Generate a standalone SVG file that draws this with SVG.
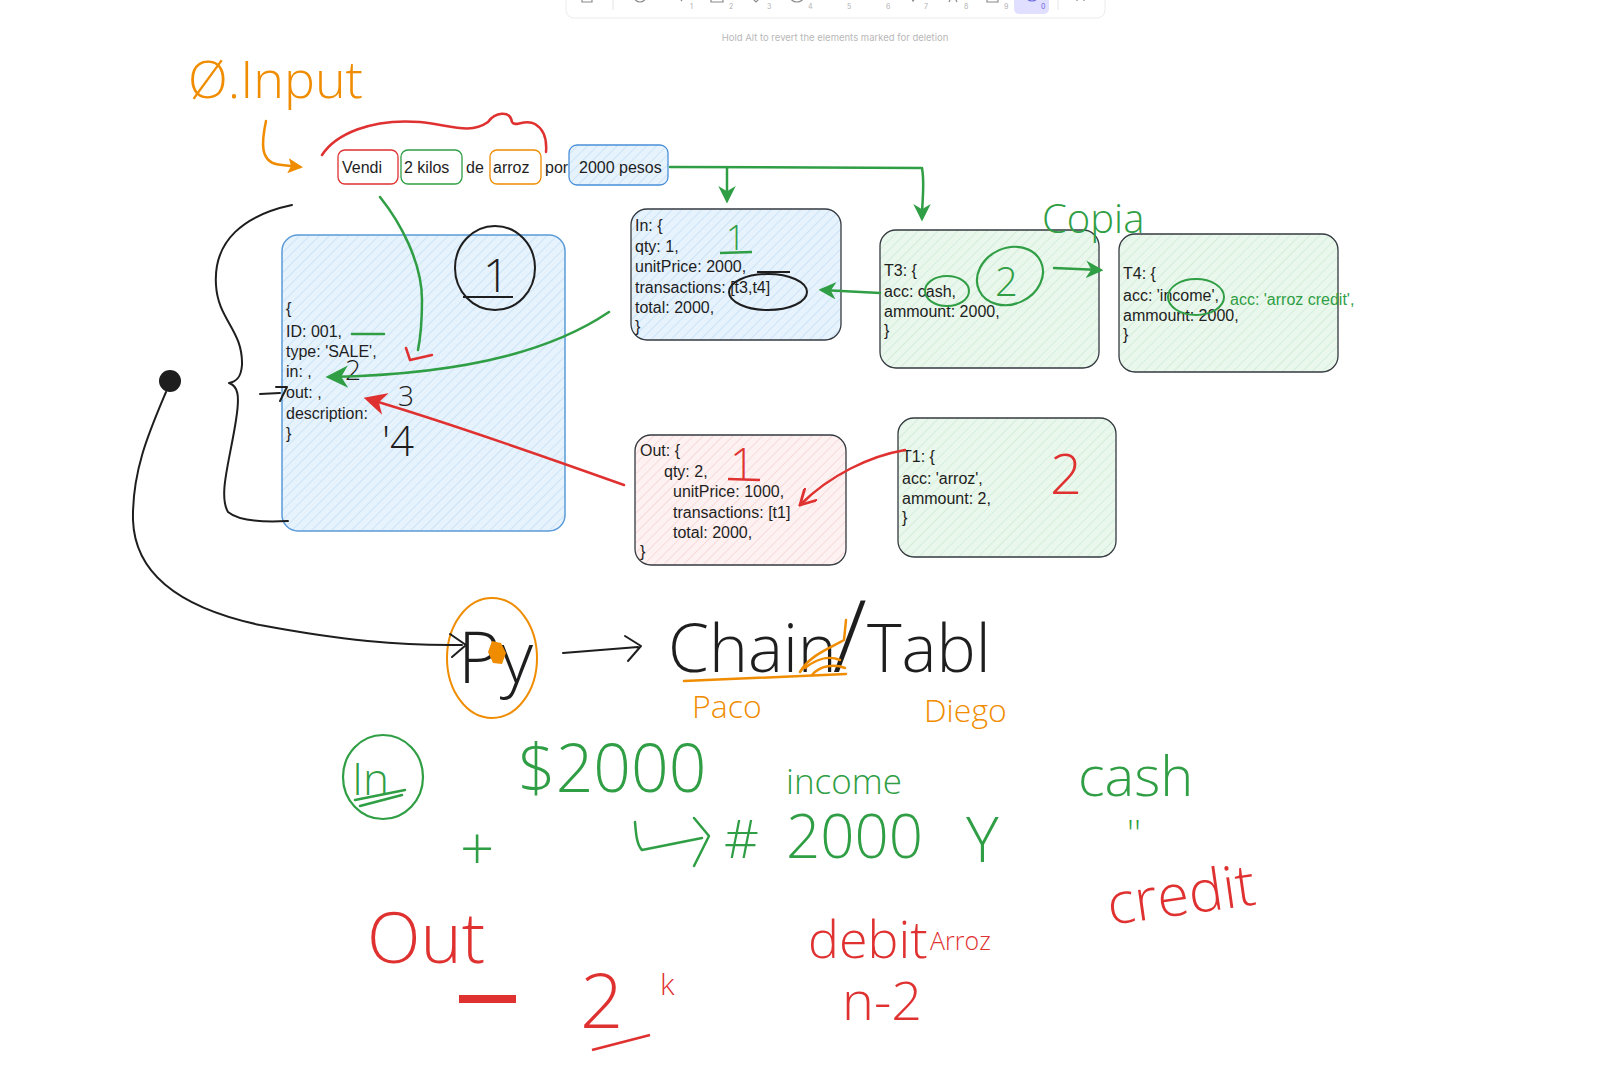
<svg xmlns="http://www.w3.org/2000/svg" width="1600" height="1082" viewBox="0 0 1600 1082">
<defs>
<pattern id="hb" width="7" height="7" patternUnits="userSpaceOnUse" patternTransform="rotate(45)"><rect width="7" height="7" fill="#e6f2fc"/><line x1="0" y1="0" x2="0" y2="7" stroke="#bcdcf4" stroke-width="1.2"/></pattern>
<pattern id="hg" width="7" height="7" patternUnits="userSpaceOnUse" patternTransform="rotate(45)"><rect width="7" height="7" fill="#eaf7ec"/><line x1="0" y1="0" x2="0" y2="7" stroke="#c6e9cf" stroke-width="1.2"/></pattern>
<pattern id="hr" width="7" height="7" patternUnits="userSpaceOnUse" patternTransform="rotate(45)"><rect width="7" height="7" fill="#fdf1f1"/><line x1="0" y1="0" x2="0" y2="7" stroke="#f5cccc" stroke-width="1.2"/></pattern>
<marker id="ag" viewBox="0 0 10 10" refX="8" refY="5" markerWidth="7" markerHeight="7" orient="auto" markerUnits="strokeWidth"><path d="M0,0 L10,5 L0,10 L3,5 Z" fill="#2f9e44"/></marker>
<marker id="agb" viewBox="0 0 10 10" refX="8" refY="5" markerWidth="9" markerHeight="9" orient="auto" markerUnits="strokeWidth"><path d="M0,0 L10,5 L0,10 L3,5 Z" fill="#2f9e44"/></marker>
<marker id="ar" viewBox="0 0 10 10" refX="8" refY="5" markerWidth="9" markerHeight="9" orient="auto" markerUnits="strokeWidth"><path d="M0,0 L10,5 L0,10 L3,5 Z" fill="#e03131"/></marker>
<marker id="arv" viewBox="0 0 10 10" refX="9" refY="5" markerWidth="7" markerHeight="7" orient="auto" markerUnits="strokeWidth"><path d="M0,0 L9,5 L0,10" fill="none" stroke="#e03131" stroke-width="1.6"/></marker>
<marker id="ao" viewBox="0 0 10 10" refX="8" refY="5" markerWidth="6" markerHeight="6" orient="auto" markerUnits="strokeWidth"><path d="M0,0 L10,5 L0,10 L2,5 Z" fill="#f08c00"/></marker>
</defs>
<style>
.code{font-family:"Liberation Sans","DejaVu Sans",sans-serif;font-size:16px;fill:#1e1e1e}
.hand{font-family:"Open Sans","Liberation Sans",sans-serif;font-weight:300}
.g{fill:#2f9e44}.r{fill:#e03131}.o{fill:#f08c00}.k{fill:#1e1e1e}
.box{stroke:#343a40;stroke-width:1.3}
.sg{fill:none;stroke:#2f9e44;stroke-width:2.5;stroke-linecap:round;stroke-linejoin:round}
.sr{fill:none;stroke:#e03131;stroke-width:2.5;stroke-linecap:round;stroke-linejoin:round}
.sk{fill:none;stroke:#1e1e1e;stroke-width:2;stroke-linecap:round;stroke-linejoin:round}
.so{fill:none;stroke:#f08c00;stroke-width:2.5;stroke-linecap:round;stroke-linejoin:round}
.tb{fill:none;stroke:#8a8a8a;stroke-width:1.2}
.dig{font-family:"Inter","Liberation Sans",sans-serif;font-size:7px;fill:#b0b0b0}
</style>
<rect width="1600" height="1082" fill="#ffffff"/>

<g id="toolbar">
<rect x="566" y="-12" width="539" height="30" rx="8" fill="#ffffff" stroke="#ececec"/>
<rect x="1014" y="-6" width="35" height="20" rx="5" fill="#e0dfff"/>
<line x1="613" y1="-2" x2="613" y2="10" stroke="#e5e5e5"/>
<line x1="1058" y1="-2" x2="1058" y2="10" stroke="#e5e5e5"/>
<path class="tb" d="M582,-3 v5 h10 v-5"/>
<path class="tb" d="M634,-4 a6,6 0 0 0 12,0"/>
<path class="tb" d="M676,-6 l6,7"/>
<path class="tb" d="M711,-6 v8 h12 v-8"/>
<path class="tb" d="M750,-4 l6,6 l6,-6"/>
<path class="tb" d="M790,-4 a7,6 0 0 0 14,0"/>
<path class="tb" d="M874,-4 v1"/>
<path class="tb" d="M910,-6 l3,7 l4,-5"/>
<path class="tb" d="M949,2 l4,-9 l4,9 M951,-1 h5"/>
<path class="tb" d="M987,-4 v6 h11 v-6"/>
<path d="M1026,-4 a6,5 0 0 0 12,0" fill="none" stroke="#6965db" stroke-width="1.2"/>
<path class="tb" d="M1077,-6 v7 M1084,-6 v7"/>
<text class="dig" x="690" y="9">1</text><text class="dig" x="729" y="9">2</text><text class="dig" x="767" y="9">3</text><text class="dig" x="808" y="9">4</text><text class="dig" x="847" y="9">5</text><text class="dig" x="886" y="9">6</text><text class="dig" x="924" y="9">7</text><text class="dig" x="964" y="9">8</text><text class="dig" x="1004" y="9">9</text><text x="1041" y="9" style="font-family:Inter,sans-serif;font-size:7px;fill:#6965db">0</text>
<text x="835" y="41" text-anchor="middle" style="font-family:Inter,'Liberation Sans',sans-serif;font-size:9.5px;fill:#b8b8b8">Hold Alt to revert the elements marked for deletion</text>
</g>

<g id="title-input">
<text class="hand o" x="188" y="98" font-size="52">Ø.Input</text>
</g>

<g id="input-sentence">
<rect x="338" y="150" width="60" height="34" rx="7" fill="#fff" stroke="#e03131" stroke-width="1.3"/>
<rect x="401" y="150" width="61" height="34" rx="7" fill="#fff" stroke="#2f9e44" stroke-width="1.3"/>
<rect x="490" y="150" width="51" height="34" rx="7" fill="#fff" stroke="#f08c00" stroke-width="1.3"/>
<rect x="569" y="145" width="99" height="40" rx="8" fill="url(#hb)" stroke="#4a90d9" stroke-width="1.3"/>
<text class="code" x="342" y="173">Vendi</text>
<text class="code" x="404" y="173">2 kilos</text>
<text class="code" x="466" y="173">de</text>
<text class="code" x="493" y="173">arroz</text>
<text class="code" x="545" y="173">por</text>
<text class="code" x="579" y="173" font-size="17">2000 pesos</text>
</g>

<g id="node-sale">
<rect x="282" y="235" width="283" height="296" rx="16" fill="url(#hb)" stroke="#5a9bd8" stroke-width="1.5"/>
<text class="code" font-size="15"><tspan x="286" y="314">{</tspan><tspan x="286" y="337">ID: 001,</tspan><tspan x="286" y="357">type: 'SALE',</tspan><tspan x="286" y="377">in: ,</tspan><tspan x="286" y="398">out: ,</tspan><tspan x="286" y="419">description:</tspan><tspan x="286" y="439">}</tspan></text>
<ellipse cx="495" cy="268" rx="40" ry="42" fill="none" stroke="#1e1e1e" stroke-width="2"/>
<text class="hand k" x="483" y="292" font-size="46">1</text>
<line x1="463" y1="297" x2="513" y2="297" stroke="#1e1e1e" stroke-width="2"/>
<text class="hand k" x="345" y="380" font-size="28" font-weight="600">2</text>
<text class="hand k" x="398" y="406" font-size="28">3</text>
<text class="hand k" x="382" y="456" font-size="42">'4</text>
</g>

<g id="node-in">
<rect x="631" y="209" width="210" height="131" rx="16" fill="url(#hb)" class="box"/>
<text class="code"><tspan x="635" y="231">In: {</tspan><tspan x="635" y="252">qty: 1,</tspan><tspan x="635" y="272">unitPrice: 2000,</tspan><tspan x="635" y="293">transactions: [t3,t4]</tspan><tspan x="635" y="313">total: 2000,</tspan><tspan x="635" y="332">}</tspan></text>
<text class="hand g" x="726" y="250" font-size="34">1</text>
<line x1="720" y1="253" x2="752" y2="252" stroke="#2f9e44" stroke-width="2.5"/>
<ellipse cx="768" cy="292" rx="39" ry="18" fill="none" stroke="#1e1e1e" stroke-width="2"/>
<line x1="757" y1="272" x2="790" y2="272" stroke="#1e1e1e" stroke-width="2"/>
</g>

<g id="node-t3">
<rect x="880" y="230" width="219" height="138" rx="16" fill="url(#hg)" class="box"/>
<text class="code"><tspan x="884" y="276">T3: {</tspan><tspan x="884" y="297">acc: cash,</tspan><tspan x="884" y="317">ammount: 2000,</tspan><tspan x="884" y="336">}</tspan></text>
<ellipse cx="947" cy="291" rx="22" ry="15" fill="none" stroke="#2f9e44" stroke-width="2"/>
<ellipse cx="1010" cy="276" rx="34" ry="28" fill="none" stroke="#2f9e44" stroke-width="2.2" transform="rotate(-25 1010 276)"/>
<text class="hand g" x="995" y="296" font-size="40">2</text>
</g>

<g id="label-copia">
<text class="hand g" x="1042" y="233" font-size="40">Copia</text>
</g>

<g id="node-t4">
<rect x="1119" y="234" width="219" height="138" rx="16" fill="url(#hg)" class="box"/>
<text class="code"><tspan x="1123" y="279">T4: {</tspan><tspan x="1123" y="301">acc: 'income',</tspan><tspan x="1123" y="321">ammount: 2000,</tspan><tspan x="1123" y="340">}</tspan></text>
<ellipse cx="1196" cy="297" rx="28" ry="18" fill="none" stroke="#2f9e44" stroke-width="2"/>
<text class="code g" x="1230" y="305" font-size="15" style="fill:#2f9e44">acc: 'arroz credit',</text>
</g>

<g id="node-out">
<rect x="635" y="435" width="211" height="130" rx="16" fill="url(#hr)" class="box"/>
<text class="code"><tspan x="640" y="456">Out: {</tspan><tspan x="664" y="477">qty: 2,</tspan><tspan x="673" y="497">unitPrice: 1000,</tspan><tspan x="673" y="518">transactions: [t1]</tspan><tspan x="673" y="538">total: 2000,</tspan><tspan x="640" y="557">}</tspan></text>
<text class="hand r" x="730" y="480" font-size="44">1</text>
<line x1="728" y1="479" x2="760" y2="480" stroke="#e03131" stroke-width="2.5"/>
</g>

<g id="node-t1">
<rect x="898" y="418" width="218" height="139" rx="16" fill="url(#hg)" class="box"/>
<text class="code"><tspan x="902" y="462">T1: {</tspan><tspan x="902" y="484">acc: 'arroz',</tspan><tspan x="902" y="504">ammount: 2,</tspan><tspan x="902" y="523">}</tspan></text>
<text class="hand r" x="1050" y="494" font-size="56">2</text>
</g>

<g id="node-py">
<ellipse cx="492" cy="658" rx="45" ry="60" fill="none" stroke="#f08c00" stroke-width="2"/>
<text class="hand k" x="458" y="683" font-size="72">Py</text>
<path d="M492,641 l9,2 l5,10 l-4,11 l-9,-1 l-5,-11 z" fill="#f08c00"/>
</g>

<g id="chain-table">
<text class="hand k" x="668" y="672" font-size="66">Chain<tspan font-size="100" dx="-4">/</tspan>Tabl</text>
<path d="M684,681 L846,674" class="so"/>
<path d="M800,672 C810,655 830,648 844,640 L846,620 M805,668 C815,660 828,655 840,660 M812,675 C820,665 835,664 845,668" class="so" stroke-width="4"/>
<text class="hand o" x="692" y="718" font-size="32">Paco</text>
<text class="hand o" x="924" y="722" font-size="32">Diego</text>
</g>

<g id="notes-in">
<ellipse cx="383" cy="777" rx="40" ry="42" fill="none" stroke="#2f9e44" stroke-width="2.2"/>
<path d="M355,800 L405,790 M360,806 L402,795" class="sg" stroke-width="2"/>
<text class="hand g" x="352" y="795" font-size="44">In</text>
<text class="hand g" x="518" y="792" font-size="66">$2000</text>
<text class="hand g" x="460" y="870" font-size="60">+</text>
<text class="hand g" x="786" y="794" font-size="35">income</text>
<text class="hand g" x="724" y="858" font-size="54" font-weight="600">#</text>
<text class="hand g" x="786" y="858" font-size="60">2000</text>
<text class="hand g" x="966" y="862" font-size="62">Y</text>
<text class="hand g" x="1078" y="796" font-size="56">cash</text>
<text class="hand g" x="1127" y="846" font-size="36">''</text>
</g>

<g id="notes-out">
<text class="hand r" x="367" y="963" font-size="70">Out</text>
<rect x="459" y="995" width="57" height="8" fill="#e03131"/>
<text class="hand r" x="580" y="1028" font-size="76">2</text>
<line x1="592" y1="1050" x2="650" y2="1035" stroke="#e03131" stroke-width="2.5"/>
<text class="hand r" x="660" y="995" font-size="30">k</text>
<text class="hand r" x="808" y="958" font-size="52">debit</text>
<text class="hand r" x="930" y="950" font-size="25" font-weight="600">Arroz</text>
<text class="hand r" x="842" y="1020" font-size="54">n-2</text>
<text class="hand r" x="1110" y="925" font-size="58" transform="rotate(-8 1110 925)">credit</text>
</g>

<g id="connectors">
<path class="so" d="M266,121 C262,140 258,164 282,165 L300,167" stroke-width="3" marker-end="url(#ao)"/>
<path class="sr" d="M322,155 C335,135 370,118 420,122 C450,125 470,135 488,122 C495,112 510,110 512,122 C515,128 525,118 535,124 C545,130 547,140 546,152"/>
<path class="sg" d="M670,167 L922,168 C925,185 922,200 922,218" marker-end="url(#ag)"/>
<path class="sg" d="M727,168 L727,200" marker-end="url(#ag)"/>
<path class="sg" d="M384,334 L352,334" stroke-width="3"/>
<path class="sg" d="M380,197 C400,222 422,262 422,300 C422,325 420,340 418,350"/>
<path class="sr" d="M406,348 L410,360 L432,355"/>
<path class="sg" d="M609,312 C560,345 480,374 330,377" stroke-width="3" marker-end="url(#agb)"/>
<path class="sr" d="M624,485 C540,455 440,420 368,399" stroke-width="3" marker-end="url(#ar)"/>
<path class="sg" d="M880,293 L822,290" stroke-width="3" marker-end="url(#ag)"/>
<path class="sg" d="M1054,268 L1100,270" stroke-width="3" marker-end="url(#ag)"/>
<path class="sr" d="M905,450 C870,456 830,475 800,505" marker-end="url(#arv)"/>
<path class="sk" d="M292,205 C245,215 213,240 216,285 C218,320 243,330 242,365 C241,378 236,382 229,383 C238,386 240,395 236,420 C230,460 218,495 228,512 C240,522 270,522 288,521"/>
<path class="sk" d="M260,394 L280,393 M276,387 L287,387 L280,401" stroke-width="2.5"/>
<circle cx="170" cy="381" r="11" fill="#1e1e1e"/>
<path class="sk" d="M166,392 C150,430 132,470 133,520 C135,580 190,610 260,625 C340,640 400,646 462,645"/>
<path class="sk" d="M450,634 L466,645 L452,657"/>
<path class="sk" d="M563,653 L638,647 M625,636 L641,646 L628,661" stroke-width="2.2"/>
<path class="sg" d="M635,822 C636,835 637,845 642,850 L702,838 M694,818 L709,836 L694,866"/>
</g>
</svg>
